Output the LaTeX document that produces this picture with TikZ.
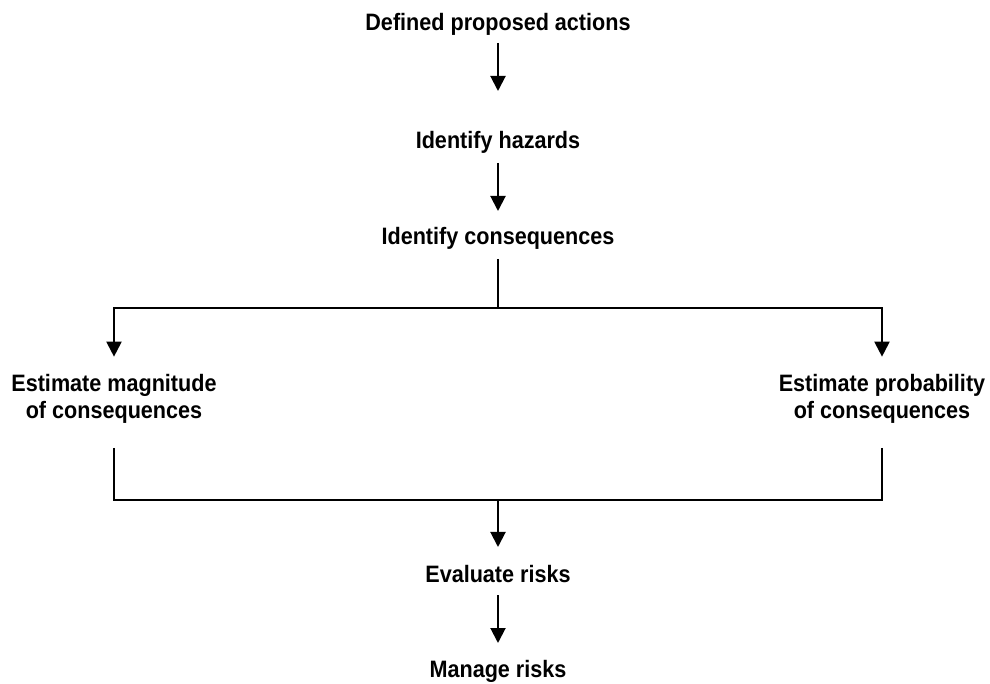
\documentclass[tikz,border=0pt]{standalone}
\usepackage{fontspec}
\setmainfont{Liberation Sans}[FakeStretch=0.91]
\usetikzlibrary{arrows.meta}
\begin{document}
\begin{tikzpicture}[x=0.75pt,y=-0.75pt,
  lbl/.style={font=\bfseries\fontsize{17.8pt}{20.5pt}\selectfont, inner sep=0pt, align=center},
  link/.style={line width=1.5pt},
  arr/.style={link,-{Triangle[length=11.25pt,width=11.25pt]}}]
\useasboundingbox (0,0) rectangle (990,684);

% steps of the process
\node[lbl, anchor=base] (act)  at (498,31)  {Defined proposed actions};
\node[lbl, anchor=base] (haz)  at (498,149) {Identify hazards};
\node[lbl, anchor=base] (con)  at (498,245) {Identify consequences};
\node[lbl]              (mag)  at (114,399) {Estimate magnitude\\of consequences};
\node[lbl]              (prob) at (882,399) {Estimate probability\\of consequences};
\node[lbl, anchor=base] (eva)  at (498,582) {Evaluate risks};
\node[lbl, anchor=base] (man)  at (498,677) {Manage risks};

% branching and joining points
\coordinate (split) at (498,308);
\coordinate (merge) at (498,500);

% connectors
\draw[arr]  ([yshift=-9pt]act.base) -- ([yshift=43.5pt]haz.base);
\draw[arr]  ([yshift=-10.5pt]haz.base) -- ([yshift=25.5pt]con.base);
\draw[link] ([yshift=-10.5pt]con.base) -- (split);
\draw[arr]  (split) -| ([yshift=13pt]mag.north);
\draw[arr]  (split) -| ([yshift=13pt]prob.north);
\draw[link] ([yshift=-18pt]mag.south) |- (merge);
\draw[link] ([yshift=-18pt]prob.south) |- (merge);
\draw[arr]  (merge) -- ([yshift=26.25pt]eva.base);
\draw[arr]  ([yshift=-9.75pt]eva.base) -- ([yshift=25.5pt]man.base);
\end{tikzpicture}
\end{document}
